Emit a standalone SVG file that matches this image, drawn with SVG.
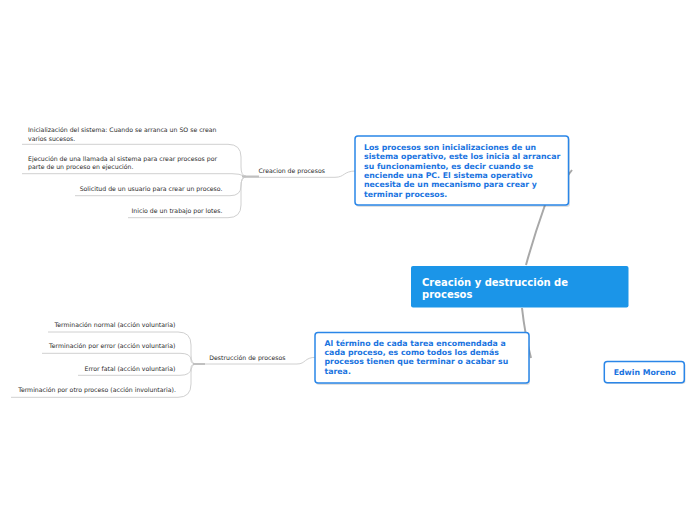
<svg xmlns="http://www.w3.org/2000/svg" width="696" height="520" viewBox="0 0 696 520">
<style>
.bg{fill:#ffffff}
.sub{fill:none;stroke:#d0d0d0;stroke-width:1}
.stub{fill:none;stroke:#c0c0c0;stroke-width:2}
.main{fill:none;stroke:#a8a8a8;stroke-width:2}
.leaf{font-family:"DejaVu Sans",Verdana,sans-serif;font-size:6.2px;fill:#2a2a2a}
.box{fill:#ffffff;stroke:#2a86e8;stroke-width:1.5}
.shadow{fill:#000000;opacity:0.12}
.btxt{font-family:"DejaVu Sans",Verdana,sans-serif;font-size:7.8px;font-weight:bold;fill:#1a74df}
.ttl{font-family:"DejaVu Sans",Verdana,sans-serif;font-size:10px;font-weight:bold;fill:#ffffff}
</style>
<rect class="bg" x="0" y="0" width="696" height="520"/>
<g id="connectors">
  <path class="main" d="M 526,265 Q 534,236 545,205 L 572,170"/>
  <path class="main" d="M 522,308 Q 525,335 531,358"/>
  <path class="sub" d="M 243,177.3 L 335,177.3 C 345,177.3 343,171 356,171"/>
  <path class="sub" d="M 193,364 L 297,364 C 306,364 304,357.3 316,357.3"/>
  <path class="sub" d="M 22,144.3 L 228,144.3 Q 241,144.3 241,157 L 241,167 Q 241,176 246,176"/>
  <path class="sub" d="M 22,173.7 L 232,173.7 Q 240,173.7 244,176"/>
  <path class="sub" d="M 75,195.7 L 230,195.7 Q 241,195.7 241,186 Q 241,177 246,177"/>
  <path class="sub" d="M 128,217.7 L 228,217.7 Q 241,217.7 241,205 L 241,186 Q 241,177 246,177"/>
  <path class="stub" d="M 242,176.5 L 259,176.5"/>
  <path class="sub" d="M 48,332 L 178,332 Q 191,332 191,345 L 191,355 Q 191,364 196,364"/>
  <path class="sub" d="M 42,353.3 L 180,353.3 Q 191,353.3 191,360 Q 191,364 196,364"/>
  <path class="sub" d="M 78,375.3 L 180,375.3 Q 191,375.3 191,368 Q 191,364 196,364"/>
  <path class="sub" d="M 11,397.3 L 178,397.3 Q 191,397.3 191,384 L 191,373 Q 191,364 196,364"/>
  <path class="stub" d="M 193,364 L 205,364"/>
</g>
<g id="creacion-item1">
  <text class="leaf" x="28" y="132">Inicialización del sistema: Cuando se arranca un SO se crean</text>
  <text class="leaf" x="28" y="140.5">varios sucesos.</text>
</g>
<g id="creacion-item2">
  <text class="leaf" x="28" y="161">Ejecución de una llamada al sistema para crear procesos por</text>
  <text class="leaf" x="28" y="169.2">parte de un proceso en ejecución.</text>
</g>
<g id="creacion-item3">
  <text class="leaf" x="222.5" y="190.5" text-anchor="end">Solicitud de un usuario para crear un proceso.</text>
</g>
<g id="creacion-item4">
  <text class="leaf" x="222.5" y="212.8" text-anchor="end">Inicio de un trabajo por lotes.</text>
</g>
<g id="creacion">
  <text class="leaf" x="258.5" y="172.8">Creacion de procesos</text>
</g>
<g id="destruccion-item1">
  <text class="leaf" x="175.5" y="327" text-anchor="end">Terminación normal (acción voluntaria)</text>
</g>
<g id="destruccion-item2">
  <text class="leaf" x="175.5" y="348" text-anchor="end">Terminación por error (acción voluntaria)</text>
</g>
<g id="destruccion-item3">
  <text class="leaf" x="175.5" y="370.8" text-anchor="end">Error fatal (acción voluntaria)</text>
</g>
<g id="destruccion-item4">
  <text class="leaf" x="176" y="392.3" text-anchor="end">Terminación por otro proceso (acción involuntaria).</text>
</g>
<g id="destruccion">
  <text class="leaf" x="209.3" y="359.5">Destrucción de procesos</text>
</g>
<g id="topic-creacion">
  <rect class="shadow" x="356" y="137.5" width="214" height="69.5" rx="3"/>
  <rect class="box" x="355" y="136" width="213.5" height="69" rx="3"/>
  <text class="btxt" x="364" y="150">Los procesos son inicializaciones de un</text>
  <text class="btxt" x="364" y="159.3">sistema operativo, este los inicia al arrancar</text>
  <text class="btxt" x="364" y="168.6">su funcionamiento, es decir cuando se</text>
  <text class="btxt" x="364" y="177.9">enciende una PC. El sistema operativo</text>
  <text class="btxt" x="364" y="187.2">necesita de un mecanismo para crear y</text>
  <text class="btxt" x="364" y="196.5">terminar procesos.</text>
</g>
<g id="topic-destruccion">
  <rect class="shadow" x="316" y="334" width="214" height="51" rx="3"/>
  <rect class="box" x="315" y="332.5" width="214" height="50.5" rx="3"/>
  <text class="btxt" x="324.5" y="345.6">Al término de cada tarea encomendada a</text>
  <text class="btxt" x="324.5" y="354.9">cada proceso, es como todos los demás</text>
  <text class="btxt" x="324.5" y="364.2">procesos tienen que terminar o acabar su</text>
  <text class="btxt" x="324.5" y="373.5">tarea.</text>
</g>
<g id="central">
  <rect x="411" y="266" width="217.5" height="41.5" rx="2" fill="#1b95e8"/>
  <text class="ttl" x="422" y="285.5">Creación y destrucción de</text>
  <text class="ttl" x="422" y="297.5">procesos</text>
</g>
<g id="autor">
  <rect class="shadow" x="605" y="362.5" width="80.5" height="21.5" rx="3"/>
  <rect class="box" x="604.3" y="361.5" width="80" height="21.2" rx="3"/>
  <text class="btxt" x="613.7" y="374.5">Edwin Moreno</text>
</g>
</svg>
